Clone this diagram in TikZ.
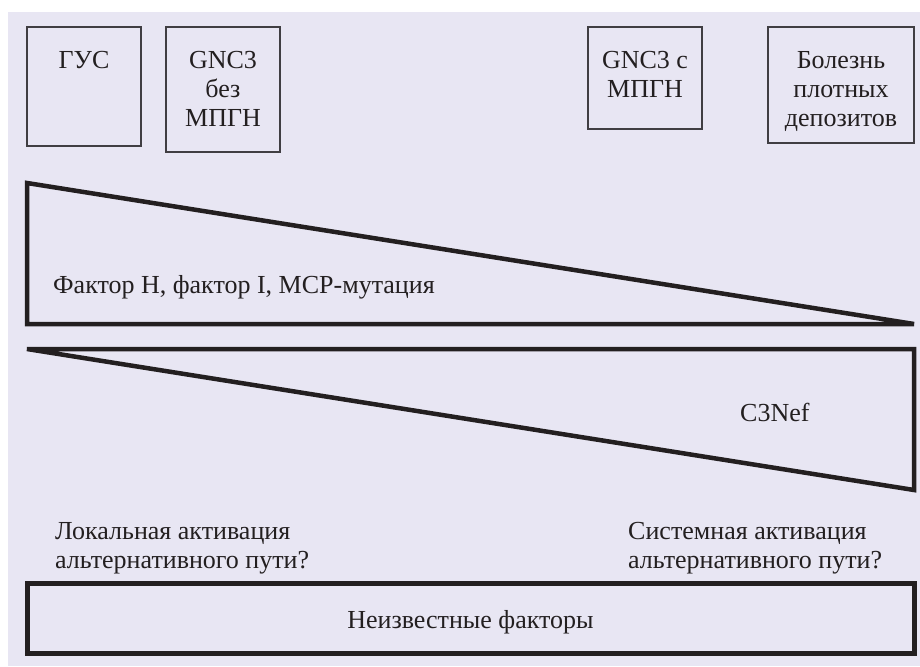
\documentclass[tikz,border=0pt]{standalone}
\usepackage{fontspec}
\setmainfont{Liberation Serif}
\usetikzlibrary{positioning}
\definecolor{bg}{RGB}{232,230,243}
\definecolor{ink}{RGB}{35,31,32}
\definecolor{boxline}{RGB}{64,62,66}

\begin{document}
\begin{tikzpicture}[x=1pt, y=-1pt,
                    every node/.style={font=\fontsize{26}{29}\selectfont, text=ink, inner sep=0pt},
                    diagbox/.style={draw=boxline, line width=1.2pt, inner sep=0pt},
                    wedge/.style={draw=ink, line width=4.5pt, line join=miter, line cap=round},
                    bar/.style={draw=ink, line width=5pt}]

\useasboundingbox (0,0) rectangle (920,666);
\fill[bg] (8,12) rectangle (920,666);

\node[diagbox, minimum width=114, minimum height=119] (hus) at (84,86.5) {};
\node[below=25pt of hus.north, align=center] (husText) {ГУС};
\node[diagbox, minimum width=114, minimum height=125] (gncNo) at (223,89.5) {};
\node[below=25pt of gncNo.north, align=center] (gncNoText) {GNC3\\без\\МПГН};
\node[diagbox, minimum width=114, minimum height=102] (gncYes) at (645,78) {};
\node[below=25pt of gncYes.north, align=center] (gncYesText) {GNC3 с\\МПГН};
\node[diagbox, minimum width=146, minimum height=116] (ddd) at (841,85) {};
\node[below=25pt of ddd.north, align=center] (dddText) {Болезнь\\плотных\\депозитов};

\coordinate (hTop) at (27,183);
\coordinate (hLow) at (27,324);
\coordinate (hTip) at (914,324);
\draw[wedge] (hTop) -- (hLow) -- (hTip) -- cycle;
\node[anchor=base west] (factors) at (53,293) {Фактор H, фактор I, MCP-мутация};

\coordinate (cTip) at (27,349);
\coordinate (cTop) at (914,349);
\coordinate (cLow) at (914,490);
\draw[wedge] (cTip) -- (cTop) -- (cLow) -- cycle;
\node[anchor=base west] (c3nef) at (740,421) {C3Nef};

\node[anchor=north west, align=left] (local) at (55,522) {Локальная активация\\альтернативного пути?};
\node[anchor=north west, align=left] (system) at (628,522) {Системная активация\\альтернативного пути?};

\node[bar, minimum width=887, minimum height=69.5] (unknown) at (470.5,618.7) {};
\node[anchor=base] (unknownText) at ([yshift=-10pt]unknown.center) {Неизвестные факторы};
\end{tikzpicture}
\end{document}
